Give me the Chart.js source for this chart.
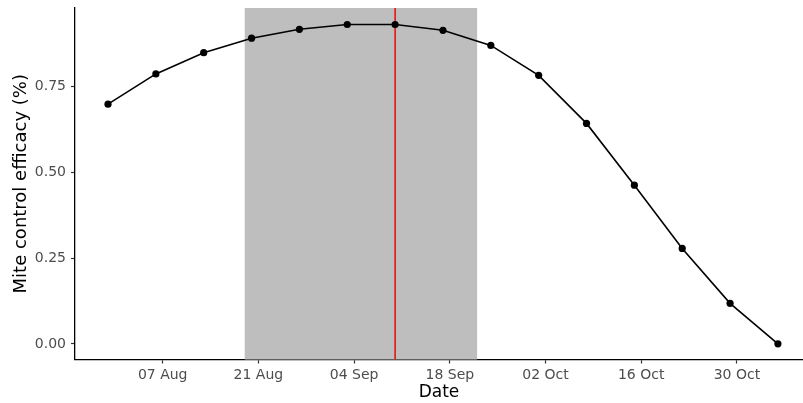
<!DOCTYPE html>
<html>
<head>
<meta charset="utf-8">
<script src="https://cdn.jsdelivr.net/npm/chart.js@4/dist/chart.umd.min.js"></script>
<style>
  html, body { margin: 0; padding: 0; background: #fff; }
  #wrap { width: 803px; height: 403px; }
</style>
</head>
<body>
<div id="wrap"><canvas id="chart" width="803" height="403"></canvas></div>
<script>
// sample dates and mite control efficacy
const dates = ["2021-07-30","2021-08-06","2021-08-13","2021-08-20","2021-08-27","2021-09-03","2021-09-10",
  "2021-09-17","2021-09-24","2021-10-01","2021-10-08","2021-10-15","2021-10-22","2021-10-29","2021-11-05"];
const efficacy = [0.698,0.786,0.848,0.890,0.916,0.930,0.930,0.913,0.869,0.782,0.642,0.462,0.278,0.118,0.000];

const xTickDates = ["2021-08-07","2021-08-21","2021-09-04","2021-09-18","2021-10-02","2021-10-16","2021-10-30"];
const yTicks = [0, 0.25, 0.5, 0.75];

// shaded window and marker line
const shadeWindow = ["2021-08-19","2021-09-22"];
const markerDate = "2021-09-10";

const MONTHS = ["Jan","Feb","Mar","Apr","May","Jun","Jul","Aug","Sep","Oct","Nov","Dec"];
function toDay(iso){ return Date.parse(iso + "T00:00:00Z") / 86400000; }
function fmtDay(d){
  const dt = new Date(Math.round(d) * 86400000);
  return String(dt.getUTCDate()).padStart(2,"0") + " " + MONTHS[dt.getUTCMonth()];
}
function zeroPad(s){ s.paddingLeft = 0; s.paddingRight = 0; s.paddingTop = 0; s.paddingBottom = 0; }

const points = dates.map((d,i) => ({x: toDay(d), y: efficacy[i]}));

const shadePlugin = {
  id: "shade",
  beforeDatasetsDraw(chart){
    const {ctx, chartArea: a, scales: {x}} = chart;
    const x0 = x.getPixelForValue(toDay(shadeWindow[0]));
    const x1 = x.getPixelForValue(toDay(shadeWindow[1]));
    const xm = x.getPixelForValue(toDay(markerDate));
    ctx.save();
    ctx.fillStyle = "#bebebe";
    ctx.fillRect(x0, a.top, x1 - x0, a.bottom - a.top);
    ctx.strokeStyle = "#ff0000";
    ctx.lineWidth = 1.5;
    ctx.beginPath();
    ctx.moveTo(xm, a.top);
    ctx.lineTo(xm, a.bottom);
    ctx.stroke();
    ctx.restore();
  }
};

new Chart(document.getElementById("chart"), {
  type: "line",
  data: {
    datasets: [{
      data: points,
      borderColor: "#000",
      backgroundColor: "#000",
      borderWidth: 1.6,
      pointRadius: 3.6,
      pointBorderWidth: 0,
      tension: 0,
      clip: false
    }]
  },
  options: {
    responsive: false,
    animation: false,
    events: [],
    layout: { autoPadding: false, padding: { top: 8, right: 0, left: 0, bottom: 0 } },
    plugins: { legend: { display: false }, tooltip: { enabled: false } },
    scales: {
      x: {
        type: "linear",
        min: toDay("2021-07-25") + 0.17,
        max: toDay("2021-11-08") + 0.67,
        afterFit(s){ s.height = 43.5; zeroPad(s); },
        afterBuildTicks(s){ s.ticks = xTickDates.map(d => ({value: toDay(d)})); },
        ticks: {
          callback: v => fmtDay(v),
          color: "#4d4d4d",
          font: { family: "DejaVu Sans", size: 14 },
          padding: 3,
          maxRotation: 0,
          autoSkip: false
        },
        grid: { drawOnChartArea: false, drawTicks: true, tickLength: 4, tickColor: "#333", tickWidth: 1.2 },
        border: { display: true, color: "#000", width: 1.3 },
        title: {
          display: true, text: "Date", color: "#000",
          font: { family: "DejaVu Sans", size: 17 },
          padding: { top: 0, bottom: 0 }
        }
      },
      y: {
        min: -0.0455,
        max: 0.978,
        afterFit(s){ s.width = 75; zeroPad(s); },
        afterBuildTicks(s){ s.ticks = yTicks.map(v => ({value: v})); },
        ticks: {
          callback: v => v.toFixed(2),
          color: "#4d4d4d",
          font: { family: "DejaVu Sans", size: 14 },
          padding: 5
        },
        grid: { drawOnChartArea: false, drawTicks: true, tickLength: 4, tickColor: "#333", tickWidth: 1.2 },
        border: { display: true, color: "#000", width: 1.3 },
        title: {
          display: true, text: "Mite control efficacy (%)", color: "#000",
          font: { family: "DejaVu Sans", size: 18 },
          padding: { top: 11, bottom: 0 }
        }
      }
    }
  },
  plugins: [shadePlugin]
});
</script>
</body>
</html>
